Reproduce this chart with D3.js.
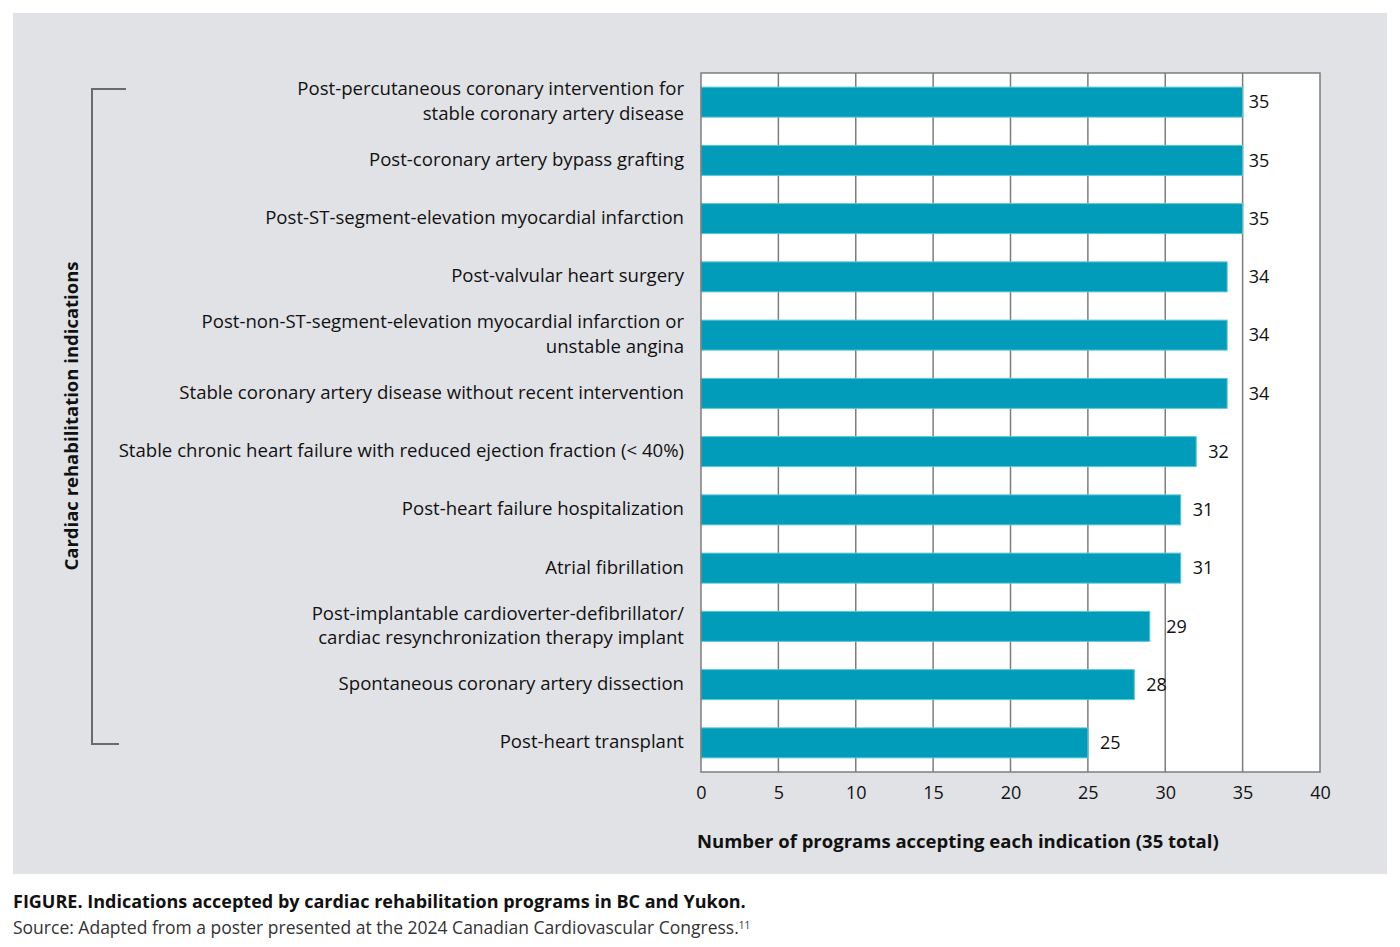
<!DOCTYPE html>
<html>
<head>
<meta charset="utf-8">
<script src="https://cdn.jsdelivr.net/npm/d3@7"></script>
<style>
  html, body { margin: 0; padding: 0; background: #fff; }
  svg { display: block; font-family: 'Open Sans', sans-serif; }
</style>
</head>
<body>
<div id="chart"></div>
<script>
// ---- data ----
const indications = [
  ['Post-percutaneous coronary intervention for', 'stable coronary artery disease'],
  ['Post-coronary artery bypass grafting'],
  ['Post-ST-segment-elevation myocardial infarction'],
  ['Post-valvular heart surgery'],
  ['Post-non-ST-segment-elevation myocardial infarction or', 'unstable angina'],
  ['Stable coronary artery disease without recent intervention'],
  ['Stable chronic heart failure with reduced ejection fraction (< 40%)'],
  ['Post-heart failure hospitalization'],
  ['Atrial fibrillation'],
  ['Post-implantable cardioverter-defibrillator/', 'cardiac resynchronization therapy implant'],
  ['Spontaneous coronary artery dissection'],
  ['Post-heart transplant']
];
const programs = [35, 35, 35, 34, 34, 34, 32, 31, 31, 29, 28, 25];
const xTicks = [0, 5, 10, 15, 20, 25, 30, 35, 40];
const totalPrograms = 35;

const W = 1400, H = 947;
const plot = { left: 701, right: 1320, top: 73, bottom: 772 };

const svg = d3.select('#chart').append('svg')
  .attr('width', W).attr('height', H);

// grey panel
svg.append('rect')
  .attr('x', 13).attr('y', 13)
  .attr('width', 1374).attr('height', 861)
  .attr('fill', '#e1e2e6');

const x = d3.scaleLinear().domain([0, 40]).range([plot.left, plot.right]);
const y = d3.scaleBand()
  .domain(d3.range(programs.length))
  .range([plot.top, plot.bottom])
  .paddingInner(0.485).paddingOuter(0.2425);

// plot background
svg.append('rect')
  .attr('x', plot.left).attr('y', plot.top)
  .attr('width', plot.right - plot.left).attr('height', plot.bottom - plot.top)
  .attr('fill', '#fff');

// vertical grid
svg.append('g')
  .selectAll('line')
  .data(xTicks.slice(1, -1))
  .join('line')
  .attr('x1', d => x(d)).attr('x2', d => x(d))
  .attr('y1', plot.top).attr('y2', plot.bottom)
  .attr('stroke', '#7d7d7d').attr('stroke-width', 1.5);

// bars
svg.append('g')
  .selectAll('rect')
  .data(programs)
  .join('rect')
  .attr('x', x(0))
  .attr('y', (d, i) => y(i))
  .attr('width', d => x(d) - x(0))
  .attr('height', y.bandwidth())
  .attr('fill', '#009cb9')
  .attr('stroke', '#5cc6d8')
  .attr('stroke-width', 1);

// frame
svg.append('rect')
  .attr('x', plot.left).attr('y', plot.top)
  .attr('width', plot.right - plot.left).attr('height', plot.bottom - plot.top)
  .attr('fill', 'none')
  .attr('stroke', '#7d7d7d').attr('stroke-width', 1.5);

// value labels: near-total values sit past the 35 line, others nudged off a gridline
function labelX(d) {
  if (d >= totalPrograms - 1) return x(totalPrograms) + 6;
  let pos = x(d) + 12;
  xTicks.forEach(t => {
    const gap = x(t) - pos;
    if (gap > 0 && gap < 6) pos = x(t) + 1;
  });
  return pos;
}
svg.append('g')
  .selectAll('text')
  .data(programs)
  .join('text')
  .attr('x', labelX)
  .attr('y', (d, i) => y(i) + y.bandwidth() / 2)
  .attr('dy', '0.35em')
  .attr('fill', '#111')
  .style('font-size', '18px')
  .text(d => d);

// category labels
const labels = svg.append('g')
  .selectAll('text')
  .data(indications)
  .join('text')
  .attr('text-anchor', 'end')
  .attr('fill', '#111')
  .style('font-size', '18.6px')
  .attr('y', (d, i) => y(i) + y.bandwidth() / 2 - 1);
labels.selectAll('tspan')
  .data(d => d.map((t, k) => ({ t, k, n: d.length })))
  .join('tspan')
  .attr('x', 684)
  .attr('dy', d => d.k === 0 ? (0.35 - (d.n - 1) * 0.66) + 'em' : '1.32em')
  .text(d => d.t);

// x axis ticks
const axis = svg.append('g')
  .attr('transform', `translate(0,${plot.bottom})`)
  .call(d3.axisBottom(x).tickValues(xTicks).tickSize(0).tickPadding(14));
axis.select('.domain').remove();
axis.selectAll('text')
  .attr('fill', '#111')
  .style('font-size', '18px')
  .style('font-family', "'Open Sans', sans-serif");

// x axis title
svg.append('text')
  .attr('x', 697).attr('y', 848)
  .attr('fill', '#111')
  .style('font-size', '18.5px')
  .style('font-weight', 700)
  .text('Number of programs accepting each indication (35 total)');

// y axis title + bracket
svg.append('text')
  .attr('transform', 'translate(78,416) rotate(-90)')
  .attr('text-anchor', 'middle')
  .attr('fill', '#111')
  .style('font-size', '18.5px')
  .style('font-weight', 700)
  .text('Cardiac rehabilitation indications');

svg.append('path')
  .attr('d', 'M126,89 H92 V744 H119')
  .attr('fill', 'none')
  .attr('stroke', '#6b6b6b').attr('stroke-width', 2);

// caption
svg.append('text')
  .attr('x', 13).attr('y', 908)
  .attr('fill', '#111')
  .style('font-size', '18px')
  .style('font-weight', 700)
  .text('FIGURE. Indications accepted by cardiac rehabilitation programs in BC and Yukon.');

const src = svg.append('text')
  .attr('x', 13).attr('y', 934)
  .attr('fill', '#333')
  .style('font-size', '17.5px');
src.append('tspan').text('Source: Adapted from a poster presented at the 2024 Canadian Cardiovascular Congress.');
src.append('tspan')
  .attr('dy', '-0.5em')
  .style('font-size', '10px')
  .text('11');
</script>
</body>
</html>
